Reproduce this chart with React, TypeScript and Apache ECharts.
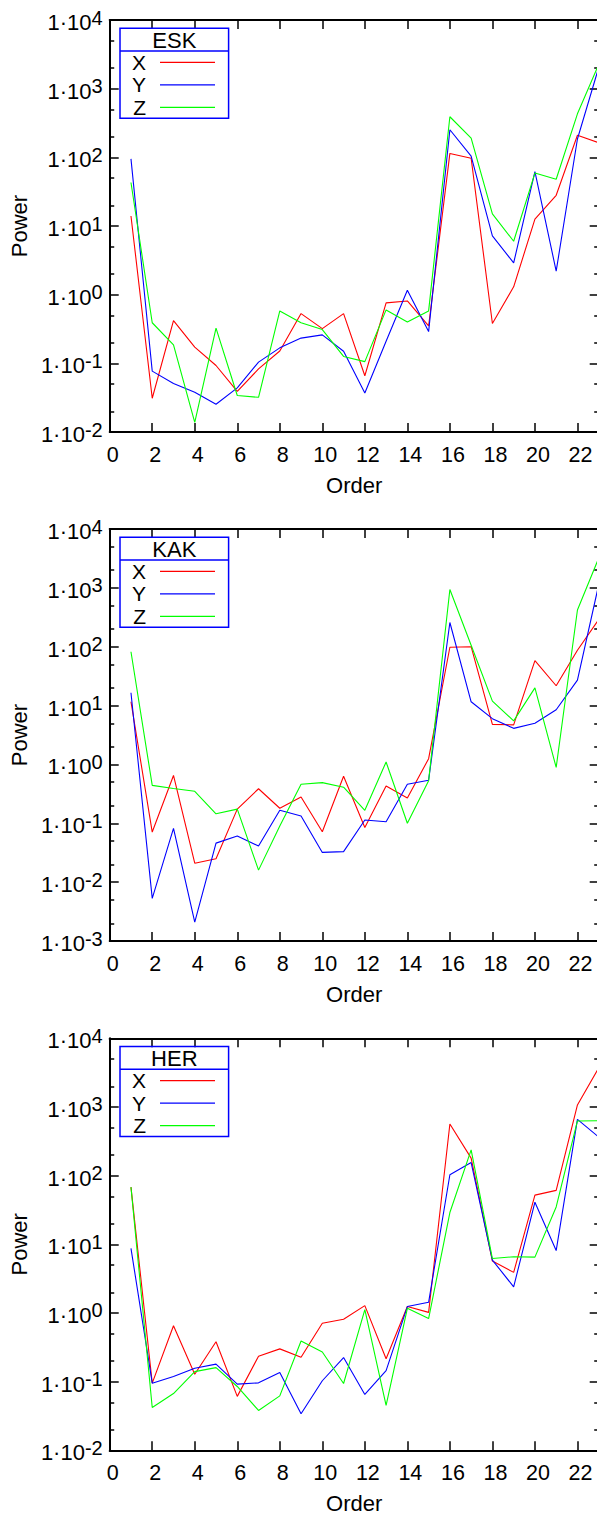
import React, { useEffect, useRef } from 'react';
import * as echarts from 'echarts';

// ---------- data ----------
const orders = [1, 2, 3, 4, 5, 6, 7, 8, 9, 10, 11, 12, 13, 14, 15, 16, 17, 18, 19, 20, 21, 22, 23];
const xTickValues = [0, 2, 4, 6, 8, 10, 12, 14, 16, 18, 20, 22];
const panelNames = ['ESK', 'KAK', 'HER'];
const yMinExponents = [-2, -3, -2];
const yMaxExponent = 4;
const componentNames = ['X', 'Y', 'Z'];

const eskX = [14, 0.031, 0.42, 0.172, 0.093, 0.039, 0.083, 0.151, 0.53, 0.32, 0.53, 0.066, 0.76, 0.81, 0.35, 114, 97, 0.38, 1.3, 12.6, 28, 210, 163];
const eskY = [95, 0.077, 0.051, 0.038, 0.0254, 0.044, 0.104, 0.168, 0.233, 0.26, 0.15, 0.037, 0.21, 1.16, 0.29, 252, 104, 7.2, 2.9, 62, 2.2, 185, 2030];
const eskZ = [43, 0.39, 0.186, 0.0138, 0.326, 0.034, 0.032, 0.58, 0.39, 0.31, 0.126, 0.106, 0.6, 0.4, 0.58, 390, 190, 15, 6.0, 59, 48, 430, 2250];

const kakX = [11.6, 0.071, 0.65, 0.021, 0.025, 0.174, 0.386, 0.18, 0.28, 0.072, 0.63, 0.085, 0.43, 0.27, 1.25, 98, 100, 4.8, 4.7, 58, 21.7, 87, 290];
const kakY = [16.5, 0.0053, 0.082, 0.0021, 0.046, 0.061, 0.041, 0.166, 0.133, 0.032, 0.033, 0.114, 0.106, 0.46, 0.54, 258, 11.6, 6.0, 4.1, 5.0, 8.5, 27, 1130];
const kakZ = [82, 0.44, 0.39, 0.35, 0.145, 0.174, 0.016, 0.09, 0.46, 0.49, 0.41, 0.166, 1.1, 0.1, 0.53, 940, 106, 11.9, 5.5, 20, 0.89, 420, 3200];

const herX = [68, 0.095, 0.65, 0.128, 0.38, 0.061, 0.235, 0.3, 0.227, 0.71, 0.81, 1.28, 0.215, 1.24, 1.02, 565, 180, 5.7, 3.9, 52, 61, 1070, 3700];
const herY = [8.7, 0.095, 0.119, 0.157, 0.18, 0.092, 0.096, 0.136, 0.034, 0.103, 0.224, 0.065, 0.145, 1.24, 1.43, 103, 155, 5.9, 2.4, 41, 8.1, 660, 365];
const herZ = [68, 0.042, 0.067, 0.14, 0.16, 0.085, 0.038, 0.062, 0.39, 0.27, 0.094, 1.12, 0.045, 1.17, 0.83, 29, 237, 6.2, 6.6, 6.5, 35, 625, 630];

const panelData = [
  [eskX, eskY, eskZ],
  [kakX, kakY, kakZ],
  [herX, herY, herZ],
];

// ---------- styles ----------
const FONT = '"Liberation Sans", Arial, Helvetica, sans-serif';
const COLORS = ['#ff0000', '#0000ff', '#00ff00'];
const GRID_TOPS = [20, 529, 1038.3];
const GRID_HEIGHT = 412;
const GRID_LEFT = 106;
const GRID_WIDTH = 492.7;
const CHART_W = 600;
const CHART_H = 1520;

function minorTickValues(lo: number, hi: number): number[] {
  const out: number[] = [];
  for (let e = lo; e < hi; e++) {
    out.push(e + Math.log10(2), e + Math.log10(5));
  }
  return out;
}

function buildOption() {
  const grid: any[] = [];
  const xAxis: any[] = [];
  const yAxis: any[] = [];
  const series: any[] = [];
  const legend: any[] = [];
  const graphic: any[] = [];

  panelNames.forEach((name, i) => {
    const top = GRID_TOPS[i];
    grid.push({ left: GRID_LEFT, top, width: GRID_WIDTH, height: GRID_HEIGHT, containLabel: false });

    const lineStyle = { color: '#000', width: 2 };
    const tickStyle = { color: '#000', width: 1.5 };

    xAxis.push({
      type: 'value', gridIndex: i, position: 'bottom', min: 0, max: 23,
      name: 'Order', nameLocation: 'middle', nameGap: 42,
      nameTextStyle: { fontSize: 22, fontFamily: FONT, color: '#000' },
      axisLine: { show: true, onZero: false, lineStyle },
      axisTick: { show: true, inside: true, length: 9, lineStyle: tickStyle, customValues: xTickValues },
      axisLabel: { show: true, customValues: xTickValues, fontSize: 21.5, fontFamily: FONT, color: '#000', margin: 12, padding: [0, 0, 0, 6] },
      splitLine: { show: false },
    });
    xAxis.push({
      type: 'value', gridIndex: i, position: 'top', min: 0, max: 23,
      axisLine: { show: true, onZero: false, lineStyle },
      axisTick: { show: true, inside: true, length: 9, lineStyle: tickStyle, customValues: xTickValues },
      axisLabel: { show: false },
      splitLine: { show: false },
    });

    const lo = yMinExponents[i];
    const hi = yMaxExponent;
    const minors = minorTickValues(lo, hi);
    const common = { type: 'value', gridIndex: i, min: lo, max: hi, interval: 1, splitLine: { show: false } };

    yAxis.push({
      ...common, position: 'left',
      name: 'Power', nameLocation: 'middle', nameGap: 67,
      nameTextStyle: { fontSize: 22, fontFamily: FONT, color: '#000' },
      axisLine: { show: true, onZero: false, lineStyle },
      axisTick: { show: true, inside: true, length: 9, lineStyle: tickStyle },
      axisLabel: {
        show: true, margin: 7,
        formatter: (v: number) => `{m|1·10}{s|${Math.round(v)}}`,
        rich: {
          m: { fontSize: 22, fontFamily: FONT, color: '#000', padding: [5, 0, 0, 0] },
          s: { fontSize: 20, fontFamily: FONT, color: '#000', padding: [0, 0, 5, 0] },
        },
      },
    });
    yAxis.push({
      ...common, position: 'left',
      axisLine: { show: false, onZero: false },
      axisTick: { show: true, inside: true, length: 4.5, lineStyle: tickStyle, customValues: minors },
      axisLabel: { show: false },
    });
    yAxis.push({
      ...common, position: 'right',
      axisLine: { show: true, onZero: false, lineStyle },
      axisTick: { show: true, inside: true, length: 9, lineStyle: tickStyle },
      axisLabel: { show: false },
    });
    yAxis.push({
      ...common, position: 'right',
      axisLine: { show: false, onZero: false },
      axisTick: { show: true, inside: true, length: 4.5, lineStyle: tickStyle, customValues: minors },
      axisLabel: { show: false },
    });

    panelData[i].forEach((vals, k) => {
      series.push({
        type: 'line',
        name: componentNames[k],
        xAxisIndex: i * 2,
        yAxisIndex: i * 4,
        data: orders.map((o, j) => [o, Math.log10(vals[j])]),
        showSymbol: false,
        symbol: 'none',
        lineStyle: { color: COLORS[k], width: 1.1 },
        itemStyle: { color: COLORS[k] },
        clip: true,
        z: 2 + k,
      });
    });

    legend.push({
      orient: 'vertical', left: 132, top: top + 31.8, align: 'right',
      itemWidth: 55, itemHeight: 1.2, icon: 'rect', itemGap: 1.5, padding: 0,
      selectedMode: false,
      textStyle: { fontSize: 21, fontFamily: FONT, color: '#000', padding: [0, 9, 0, 0] },
      data: componentNames,
    });

    graphic.push({
      type: 'rect', shape: { x: 120, y: top + 8.3, width: 108.6, height: 90 },
      style: { fill: 'none', stroke: '#0000ff', lineWidth: 1.5 }, z: 10,
    });
    graphic.push({
      type: 'line', shape: { x1: 120, y1: top + 31, x2: 228.6, y2: top + 31 },
      style: { stroke: '#0000ff', lineWidth: 1.5 }, z: 10,
    });
    graphic.push({
      type: 'text', x: 174.3, y: top + 20,
      style: { text: name, fontSize: 22, fontFamily: FONT, fill: '#000', align: 'center', verticalAlign: 'middle' },
      z: 10,
    });
  });

  return {
    animation: false,
    backgroundColor: '#ffffff',
    textStyle: { fontFamily: FONT },
    grid, xAxis, yAxis, series, legend, graphic,
  };
}

export default function App() {
  const ref = useRef<HTMLDivElement>(null);
  useEffect(() => {
    if (!ref.current) return;
    const chart = echarts.init(ref.current, undefined, { renderer: 'svg' });
    chart.setOption(buildOption() as any);
    return () => chart.dispose();
  }, []);
  return (
    <div style={{ position: 'absolute', left: 0, top: 0, width: 597, height: CHART_H, overflow: 'hidden', background: '#fff' }}>
      <div ref={ref} style={{ width: CHART_W, height: CHART_H }} />
    </div>
  );
}
